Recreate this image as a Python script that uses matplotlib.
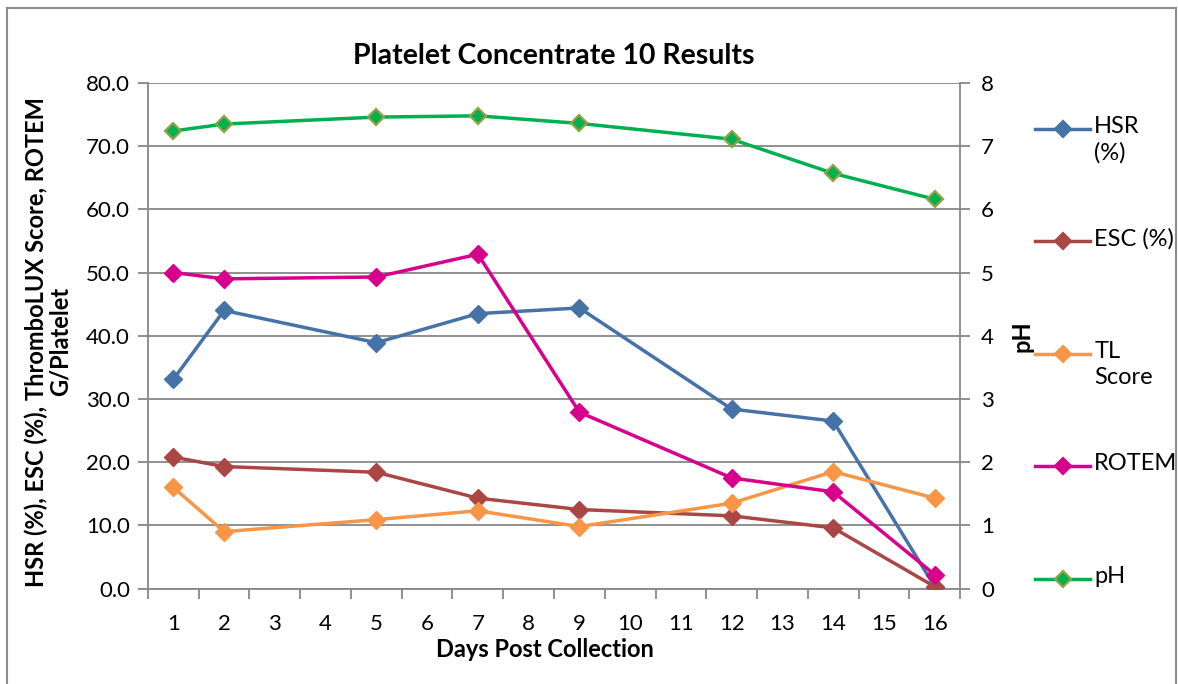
import matplotlib
matplotlib.use("Agg")
import matplotlib.pyplot as plt
from matplotlib.lines import Line2D
from matplotlib.patches import Rectangle

plt.rcParams["font.family"] = ["Lato", "DejaVu Sans"]

# Category axis: every day 1..16 gets a slot, measurements only on some days
day_labels = [str(d) for d in range(1, 17)]
days = [1, 2, 5, 7, 9, 12, 14, 16]

hsr = [33.1, 44.0, 38.9, 43.5, 44.4, 28.4, 26.5, 0.3]
esc = [20.8, 19.3, 18.4, 14.3, 12.5, 11.5, 9.6, 0.3]
tl_score = [16.0, 9.0, 10.9, 12.3, 9.8, 13.5, 18.5, 14.3]
rotem = [50.0, 49.0, 49.3, 52.9, 27.9, 17.5, 15.3, 2.2]
ph = [7.24, 7.35, 7.46, 7.48, 7.36, 7.11, 6.57, 6.16]

series_names = ["HSR\n(%)", "ESC (%)", "TL\nScore", "ROTEM", "pH"]
series_colors = ["#4572A7", "#AA4643", "#F79646", "#D6008C", "#00B050"]
marker_edges = ["#4572A7", "#AA4643", "#F79646", "#D6008C", "#8EA344"]

fig = plt.figure(figsize=(11.78, 6.84), dpi=100)
ax = fig.add_axes([0.1256, 0.1396, 0.6894, 0.7391])
ax2 = ax.twinx()

left_series = [hsr, esc, tl_score, rotem]
for vals, col, edge in zip(left_series, series_colors[:4], marker_edges[:4]):
    ax.plot(days, vals, color=col, lw=2.5, marker="D", ms=9,
            markerfacecolor=col, markeredgecolor=edge, zorder=3)
ax2.plot(days, ph, color=series_colors[4], lw=2.5, marker="D", ms=8.5,
         markerfacecolor=series_colors[4], markeredgecolor=marker_edges[4],
         markeredgewidth=1.6, zorder=3)

# primary axis
ax.set_xlim(0.5, 16.5)
ax.set_ylim(0, 80)
ax.set_yticks(range(0, 81, 10))
ax.set_yticklabels([f"{v:.1f}" for v in range(0, 81, 10)])
ax.set_xticks(range(1, 17))
ax.set_xticklabels(day_labels)
ax.set_xticks([x + 0.5 for x in range(0, 17)], minor=True)
ax.tick_params(axis="x", which="major", length=0, labelsize=16, pad=18)
ax.tick_params(axis="x", which="minor", length=7, width=1.3, color="#878787",
               direction="out")
ax.tick_params(axis="y", length=7, width=1.3, color="#878787", labelsize=16,
               pad=6)
ax.grid(axis="y", color="#878787", lw=1.3)
ax.set_axisbelow(True)
for side in ["top", "right"]:
    ax.spines[side].set_visible(False)
for side in ["left", "bottom"]:
    ax.spines[side].set_color("#878787")
    ax.spines[side].set_linewidth(1.3)

# secondary axis for pH
ax2.set_ylim(0, 8)
ax2.set_yticks(range(0, 9))
ax2.tick_params(axis="y", length=7, width=1.3, color="#878787", labelsize=16,
                pad=8)
for side in ["top", "left", "bottom"]:
    ax2.spines[side].set_visible(False)
ax2.spines["right"].set_color("#878787")
ax2.spines["right"].set_linewidth(1.3)

ax.set_title("Platelet Concentrate 10 Results", fontsize=20.5, fontweight="bold",
             pad=14)
ax.set_xlabel("Days Post Collection", fontsize=17, fontweight="bold")
ax.xaxis.set_label_coords(0.489, -0.098)
ax.set_ylabel("HSR (%), ESC (%), ThromboLUX Score, ROTEM\nG/Platelet",
              fontsize=17, fontweight="bold", linespacing=1.05)
ax.yaxis.set_label_coords(-0.094, 0.488)
ax2.set_ylabel("pH", fontsize=17, fontweight="bold", labelpad=12)

# legend stacked down the right-hand side
leg_y = [0.811, 0.647, 0.482, 0.318, 0.154]
for name, col, edge, y in zip(series_names, series_colors, marker_edges, leg_y):
    fig.add_artist(Line2D([0.879, 0.925], [y, y], color=col, lw=2.5,
                          transform=fig.transFigure))
    fig.add_artist(Line2D([0.902], [y], color=col, marker="D", ms=8.5,
                          markerfacecolor=col, markeredgecolor=edge,
                          markeredgewidth=1.6, transform=fig.transFigure))
    fig.text(0.929, y + 0.019, name, fontsize=17, va="top", ha="left",
             linespacing=1.25)

# chart area frame
fig.add_artist(Rectangle((0.006, -0.01), 0.992, 0.998, transform=fig.transFigure,
                         fill=False, edgecolor="#8c8c8c", lw=1.5))

fig.savefig("out.png", dpi=100)
